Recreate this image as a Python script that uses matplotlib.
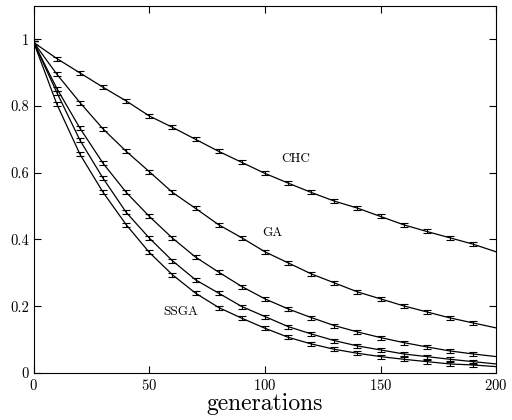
import numpy as np
import matplotlib.pyplot as plt

plt.rcParams['font.family'] = 'cmr10'
plt.rcParams['axes.formatter.use_mathtext'] = True
plt.rcParams['mathtext.fontset'] = 'cm'

gens = [0, 10, 20, 30, 40, 50, 60, 70, 80, 90, 100,
        110, 120, 130, 140, 150, 160, 170, 180, 190, 200]

chc = [0.99, 0.942, 0.899, 0.856, 0.815, 0.770, 0.736, 0.700, 0.664, 0.631, 0.598,
       0.569, 0.541, 0.515, 0.494, 0.469, 0.444, 0.424, 0.405, 0.386, 0.363]
ga = [0.99, 0.895, 0.81, 0.731, 0.664, 0.603, 0.541, 0.493, 0.444, 0.405, 0.363,
      0.330, 0.297, 0.270, 0.243, 0.222, 0.201, 0.183, 0.165, 0.150, 0.135]
mid1 = [0.99, 0.852, 0.733, 0.628, 0.541, 0.469, 0.404, 0.347, 0.302, 0.259, 0.222,
        0.192, 0.166, 0.142, 0.123, 0.106, 0.091, 0.078, 0.066, 0.057, 0.049]
mid2 = [0.99, 0.840, 0.697, 0.583, 0.481, 0.404, 0.336, 0.279, 0.239, 0.199, 0.169,
        0.139, 0.117, 0.097, 0.081, 0.069, 0.057, 0.049, 0.041, 0.034, 0.027]
ssga = [0.99, 0.805, 0.655, 0.541, 0.444, 0.361, 0.294, 0.239, 0.196, 0.164, 0.134,
        0.107, 0.087, 0.071, 0.059, 0.049, 0.041, 0.034, 0.027, 0.024, 0.019]
err = 0.006

series = [chc, ga, mid1, mid2, ssga]

fig = plt.figure(figsize=(5.12, 4.2), dpi=100)
ax = fig.add_axes([0.066, 0.112, 0.903, 0.874])

for s in series:
    ax.plot(gens, s, color='k', linewidth=0.9)
    # error bars at every point except the last
    ax.errorbar(gens[:-1], s[:-1], yerr=err, fmt='none', ecolor='k',
                elinewidth=0.8, capsize=3, capthick=0.8)

ax.text(107, 0.64, 'CHC', fontsize=9.5, va='center')
ax.text(99, 0.42, 'GA', fontsize=9.5, va='center')
ax.text(56, 0.183, 'SSGA', fontsize=9.5, va='center')

ax.set_xlim(0, 200)
ax.set_ylim(0, 1.1)
ax.set_xticks([0, 50, 100, 150, 200])
ax.set_yticks([0, 0.2, 0.4, 0.6, 0.8, 1])
ax.set_yticklabels(['0', '0.2', '0.4', '0.6', '0.8', '1'])
ax.tick_params(direction='in', top=True, right=True, length=5, labelsize=10.5)
ax.set_xlabel('generations', fontsize=17, labelpad=0)

plt.savefig('out.png', dpi=100)
